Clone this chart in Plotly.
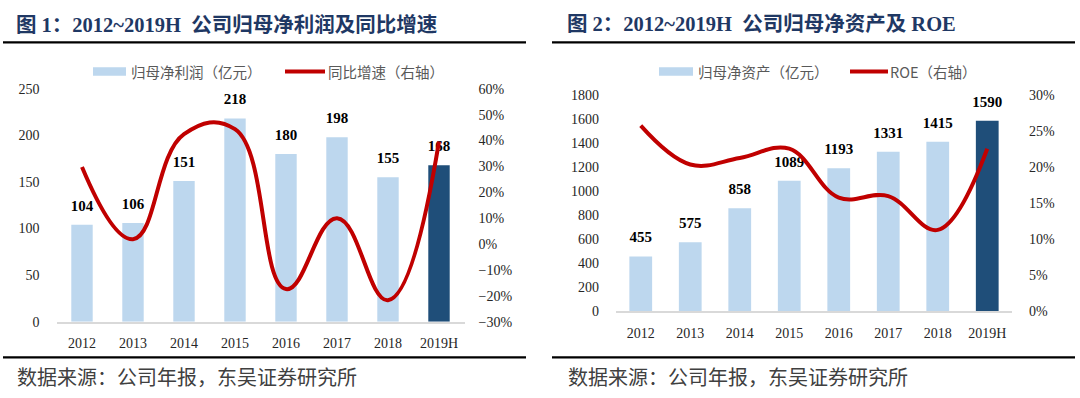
import plotly.graph_objects as go

# ---------------- data ----------------
years = ["2012", "2013", "2014", "2015", "2016", "2017", "2018", "2019H"]
net_profit = [104, 106, 151, 218, 180, 198, 155, 168]          # 归母净利润（亿元）
profit_growth = [29.8, 1.9, 42.5, 44.4, -17.4, 10.0, -21.7, 39.6]  # 同比增速 %
net_assets = [455, 575, 858, 1089, 1193, 1331, 1415, 1590]      # 归母净资产（亿元）
roe = [25.8, 20.4, 21.3, 22.6, 15.8, 16.0, 11.3, 22.6]          # ROE %

title1 = "图 1：2012~2019H  公司归母净利润及同比增速"
title2 = "图 2：2012~2019H  公司归母净资产及 ROE"
source = "数据来源：公司年报，东吴证券研究所"
legend1 = ["归母净利润（亿元）", "同比增速（右轴）"]
legend2 = ["归母净资产（亿元）", "ROE（右轴）"]

# ---------------- style ----------------
W, H = 1080, 398
LIGHT = "#BDD7EE"
DARK = "#1F4E79"
RED = "#C00000"
SERIF = "Liberation Serif, Noto Sans CJK SC, serif"
SANS = "Noto Sans CJK SC, sans-serif"


def fx(x):
    return x / W


def fy(y):
    return 1 - y / H


bar_colors = [LIGHT] * (len(years) - 1) + [DARK]
label_font = dict(family=SERIF, size=15, color="#000000", weight="bold")

fig = go.Figure()


def add_pair(xa, ya_bar, ya_line, bars, line_vals, bar_width, smoothing):
    fig.add_trace(go.Bar(
        x=years, y=bars, xaxis=xa, yaxis=ya_bar,
        marker=dict(color=bar_colors, line=dict(width=0)), width=bar_width,
        showlegend=False, hoverinfo="skip",
    ))
    # value labels: invisible markers at the bar tops push the text up a little
    fig.add_trace(go.Scatter(
        x=years, y=bars, xaxis=xa, yaxis=ya_bar, mode="markers+text",
        marker=dict(size=15, color="rgba(0,0,0,0)"),
        text=[str(v) for v in bars], textposition="top center", textfont=label_font,
        showlegend=False, hoverinfo="skip", cliponaxis=False,
    ))
    fig.add_trace(go.Scatter(
        x=years, y=line_vals, xaxis=xa, yaxis=ya_line, mode="lines",
        line=dict(color=RED, width=4, shape="spline", smoothing=smoothing),
        showlegend=False, cliponaxis=False, hoverinfo="skip",
    ))


add_pair("x", "y", "y2", net_profit, profit_growth, 0.42, 1.25)
add_pair("x2", "y3", "y4", net_assets, roe, 0.46, 1.1)

tickfont = dict(family=SERIF, size=14, color="#262626")

xcommon = dict(type="category", categoryorder="array", categoryarray=years,
               showline=True, linecolor="#D9D9D9", linewidth=1.5,
               ticks="", showgrid=False, zeroline=False, tickfont=tickfont,
               ticklabelstandoff=8, fixedrange=True)
ycommon = dict(showgrid=False, zeroline=False, showline=False, ticks="",
               tickfont=tickfont, fixedrange=True)

# left chart geometry (pixels)
L_x0, L_x1 = 56.5, 464.5
L_ytop, L_ybot = 85, 327
# right chart geometry (pixels)
R_x0, R_x1 = 616.0, 1012.0
R_ytop, R_ybot = 92, 316

fig.update_layout(
    autosize=True,
    margin=dict(l=0, r=0, t=0, b=0, pad=0),
    paper_bgcolor="white", plot_bgcolor="rgba(0,0,0,0)",
    bargap=0.5,
    xaxis=dict(domain=[fx(L_x0), fx(L_x1)], anchor="y", range=[-0.5, len(years) - 0.5], **xcommon),
    yaxis=dict(domain=[fy(L_ybot), fy(L_ytop)], anchor="x", range=[0, 250], dtick=50,
               ticklabelstandoff=16, **ycommon),
    yaxis2=dict(overlaying="y", side="right", anchor="x", range=[-30, 60], dtick=10,
                ticksuffix="%", ticklabelstandoff=13, **ycommon),
    xaxis2=dict(domain=[fx(R_x0), fx(R_x1)], anchor="y3", range=[-0.5, len(years) - 0.5], **xcommon),
    yaxis3=dict(domain=[fy(R_ybot), fy(R_ytop)], anchor="x2", range=[0, 1800], dtick=200,
                ticklabelstandoff=16, **ycommon),
    yaxis4=dict(overlaying="y3", side="right", anchor="x2", range=[0, 30], dtick=5,
                ticksuffix="%", ticklabelstandoff=16, **ycommon),
)

shapes = []
annotations = []

# title rules and bottom rules
for (x0, x1) in [(3, 526), (552, 1075)]:
    for yy in (36.7, 364):
        shapes.append(dict(type="line", xref="paper", yref="paper",
                           x0=fx(x0), x1=fx(x1), y0=fy(yy), y1=fy(yy),
                           line=dict(color="#000000", width=2.2)))

# titles
for (x, t) in [(14, title1), (565, title2)]:
    annotations.append(dict(text="<b>" + t + "</b>", x=fx(x), y=fy(18), xref="paper", yref="paper",
                            xanchor="left", yanchor="middle", showarrow=False,
                            font=dict(family=SERIF, size=20.5, color="#1F3864")))
# sources
for x in (15, 566):
    annotations.append(dict(text=source, x=fx(x), y=fy(384), xref="paper", yref="paper",
                            xanchor="left", yanchor="middle", showarrow=False,
                            font=dict(family=SANS, size=20, color="#404040")))


# manual legends
def add_legend(rect_x0, rect_x1, text1_x, line_x0, line_x1, text2_x, labels, ymid=67):
    shapes.append(dict(type="rect", xref="paper", yref="paper",
                       x0=fx(rect_x0), x1=fx(rect_x1), y0=fy(ymid + 4.5), y1=fy(ymid - 4.5),
                       fillcolor=LIGHT, line=dict(width=0)))
    shapes.append(dict(type="line", xref="paper", yref="paper",
                       x0=fx(line_x0), x1=fx(line_x1), y0=fy(ymid), y1=fy(ymid),
                       line=dict(color=RED, width=4)))
    for x, t in [(text1_x, labels[0]), (text2_x, labels[1])]:
        annotations.append(dict(text=t, x=fx(x), y=fy(ymid), xref="paper", yref="paper",
                                xanchor="left", yanchor="middle", showarrow=False,
                                font=dict(family=SANS, size=14.5, color="#595959")))


add_legend(93, 126, 129, 285, 325, 326, legend1)
add_legend(659, 693, 696, 850, 888, 888, legend2)

fig.update_layout(shapes=shapes, annotations=annotations)

fig.write_html(
    "out.html",
    config={"displayModeBar": False, "responsive": True},
    default_width="100vw",
    default_height="100vh",
    post_script=(
        "document.documentElement.style.margin='0';"
        "document.documentElement.style.padding='0';"
        "document.documentElement.style.overflow='hidden';"
        "document.body.style.margin='0';"
        "document.body.style.padding='0';"
        "document.body.style.overflow='hidden';"
        "Plotly.Plots.resize(document.getElementById('{plot_id}'));"
    ),
)
